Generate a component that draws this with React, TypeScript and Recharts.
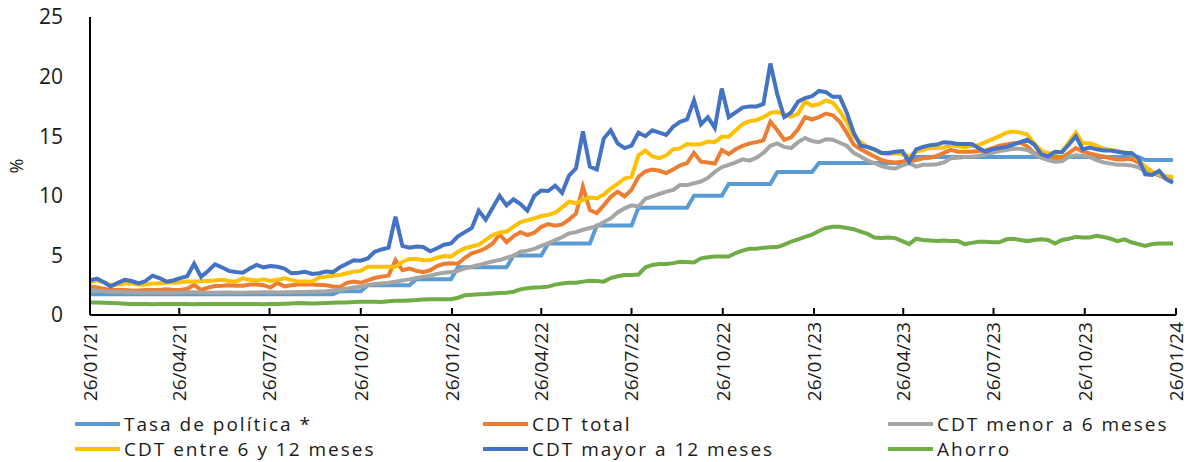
import { LineChart, Line, XAxis, YAxis } from "recharts";

const FONT = "'Open Sans', sans-serif";
const START = Date.UTC(2021, 0, 26);
const DAY = 86400000;

// quarterly tick labels on the date axis
const tickLabels = [
  "26/01/21", "26/04/21", "26/07/21", "26/10/21", "26/01/22", "26/04/22", "26/07/22",
  "26/10/22", "26/01/23", "26/04/23", "26/07/23", "26/10/23", "26/01/24",
];
const yTicks = [0, 5, 10, 15, 20, 25];

// weekly observations starting 26/01/21
const tasaPolitica = [
  1.75, 1.75, 1.75, 1.75, 1.75, 1.75, 1.75, 1.75, 1.75, 1.75, 1.75, 1.75, 1.75, 1.75, 1.75, 1.75, 1.75, 1.75,
  1.75, 1.75, 1.75, 1.75, 1.75, 1.75, 1.75, 1.75, 1.75, 1.75, 1.75, 1.75, 1.75, 1.75, 1.75, 1.75, 1.75, 1.75,
  2, 2, 2, 2,
  2.5, 2.5, 2.5, 2.5, 2.5, 2.5, 2.5,
  3, 3, 3, 3, 3, 3,
  4, 4, 4, 4, 4, 4, 4, 4,
  5, 5, 5, 5, 5,
  6, 6, 6, 6, 6, 6, 6,
  7.5, 7.5, 7.5, 7.5, 7.5, 7.5,
  9, 9, 9, 9, 9, 9, 9, 9,
  10, 10, 10, 10, 10,
  11, 11, 11, 11, 11, 11, 11,
  12, 12, 12, 12, 12, 12,
  12.75, 12.75, 12.75, 12.75, 12.75, 12.75, 12.75, 12.75, 12.75, 12.75, 12.75, 12.75, 12.75,
  13.25, 13.25, 13.25, 13.25, 13.25, 13.25, 13.25, 13.25, 13.25, 13.25, 13.25, 13.25, 13.25, 13.25, 13.25, 13.25, 13.25,
  13.25, 13.25, 13.25, 13.25, 13.25, 13.25, 13.25, 13.25, 13.25, 13.25, 13.25, 13.25, 13.25, 13.25, 13.25, 13.25, 13.25,
  13, 13, 13, 13, 13,
];

const cdtTotal = [
  2.4, 2.3, 2.2, 2.1, 2.1, 2.1, 2.05, 2.05, 2.1, 2.1,
  2.1, 2.15, 2.1, 2.1, 2.2, 2.52, 2.1, 2.3, 2.43, 2.45,
  2.5, 2.45, 2.45, 2.55, 2.55, 2.5, 2.3, 2.7, 2.4, 2.5,
  2.55, 2.55, 2.55, 2.52, 2.5, 2.4, 2.35, 2.7, 2.8, 2.7,
  2.9, 3.1, 3.22, 3.3, 4.6, 3.75, 3.9, 3.7, 3.6, 3.75,
  4.1, 4.3, 4.35, 4.3, 4.8, 5.17, 5.35, 5.6, 6.0, 6.75,
  6.1, 6.6, 6.95, 6.7, 6.9, 7.4, 7.63, 7.5, 7.6, 8.0,
  8.5, 10.76, 8.81, 8.55, 9.2, 9.9, 10.35, 9.95, 10.5, 11.6,
  12.05, 12.2, 12.1, 11.9, 12.2, 12.55, 12.75, 13.6, 12.86, 12.8,
  12.7, 13.84, 13.5, 13.9, 14.2, 14.4, 14.5, 14.65, 16.22, 15.5,
  14.7, 14.9, 15.6, 16.6, 16.4, 16.6, 16.9, 16.75, 16.2, 15.3,
  14.3, 13.9, 13.6, 13.3, 13.0, 12.85, 12.8, 12.85, 12.9, 13.0,
  13.15, 13.2, 13.35, 13.6, 13.85, 13.7, 13.7, 13.7, 13.75, 13.8,
  14.0, 14.2, 14.3, 14.4, 14.45, 14.15, 13.6, 13.4, 13.3, 13.15,
  13.2, 13.6, 14.0, 13.7, 13.55, 13.4, 13.3, 13.15, 13.05, 13.05,
  13.1, 12.8, 12.4, 12.0, 11.7, 11.45, 11.3,
];

const cdtMenor6 = [
  2.1, 2.05, 2.0, 1.95, 1.95, 1.9, 1.9, 1.88, 1.88, 1.88,
  1.87, 1.87, 1.87, 1.88, 1.9, 1.9, 1.88, 1.87, 1.87, 1.88,
  1.88, 1.87, 1.87, 1.88, 1.88, 1.9, 1.9, 1.88, 1.9, 1.9,
  1.92, 1.92, 1.95, 1.97, 2.0, 2.05, 2.1, 2.2, 2.3, 2.38,
  2.5, 2.6, 2.65, 2.71, 2.8, 2.9, 2.99, 3.1, 3.2, 3.3,
  3.45, 3.55, 3.6, 3.7, 3.92, 4.05, 4.19, 4.35, 4.5, 4.61,
  4.8, 4.95, 5.31, 5.4, 5.55, 5.8, 6.01, 6.29, 6.52, 6.85,
  6.95, 7.15, 7.3, 7.45, 7.8, 8.1, 8.6, 8.95, 9.2, 9.1,
  9.75, 9.95, 10.15, 10.35, 10.5, 10.9, 10.9, 11.05, 11.2, 11.5,
  12.0, 12.4, 12.6, 12.8, 13.06, 12.95, 13.2, 13.6, 14.2, 14.4,
  14.1, 14.0, 14.5, 14.85, 14.6, 14.5, 14.75, 14.7, 14.45, 14.2,
  13.6, 13.3, 12.95, 12.75, 12.5, 12.35, 12.3, 12.55, 12.75, 12.45,
  12.6, 12.6, 12.65, 12.8, 13.15, 13.2, 13.25, 13.28, 13.35, 13.5,
  13.6, 13.75, 13.85, 13.95, 13.95, 13.85, 13.5, 13.2, 13.0, 12.85,
  12.9, 13.28, 13.4, 13.35, 13.25, 13.0, 12.8, 12.7, 12.6, 12.6,
  12.55, 12.4, 12.1, 11.9, 11.7, 11.6, 11.5,
];

const cdtEntre6y12 = [
  2.75, 2.9, 2.75, 2.5, 2.55, 2.65, 2.65, 2.55, 2.55, 2.65,
  2.65, 2.7, 2.7, 2.75, 2.8, 2.8, 2.85, 2.85, 2.9, 2.95,
  2.85, 2.8, 3.08, 2.95, 2.9, 3.0, 2.85, 2.95, 3.08, 2.95,
  2.8, 2.8, 2.8, 3.15, 3.22, 3.3, 3.36, 3.5, 3.64, 3.7,
  4.05, 4.05, 4.05, 4.05, 4.05, 4.45, 4.7, 4.7, 4.6, 4.6,
  4.8, 4.95, 4.9, 5.3, 5.6, 5.75, 5.9, 6.3, 6.7, 6.9,
  7.0, 7.4, 7.8, 7.95, 8.1, 8.3, 8.4, 8.58, 9.03, 9.5,
  9.37, 9.65, 9.85, 9.8, 10.1, 10.6, 11.0, 11.45, 11.6, 13.4,
  13.8, 13.3, 13.15, 13.4, 13.9, 13.98, 14.35, 14.3, 14.35, 14.55,
  14.5, 14.95, 14.95, 15.5, 16.0, 16.25, 16.35, 16.6, 16.95, 17.05,
  16.8, 16.65, 16.9, 17.9, 17.55, 17.7, 18.0, 17.8, 17.1, 16.2,
  15.0, 14.5, 14.1, 13.85, 13.56, 13.5, 13.56, 13.5, 13.3, 13.7,
  13.85, 14.0, 14.0, 14.05, 14.25, 14.15, 14.1, 14.2, 14.25, 14.5,
  14.75, 15.0, 15.3, 15.4, 15.3, 15.15, 14.4, 13.8, 13.56, 13.6,
  13.7, 14.5, 15.3, 14.4, 14.4, 14.2, 13.95, 13.84, 13.75, 13.65,
  13.56, 13.0, 12.45, 12.0, 11.8, 11.65, 11.55,
];

const cdtMayor12 = [
  2.9, 3.05, 2.75, 2.4, 2.7, 2.95, 2.85, 2.65, 2.85, 3.3,
  3.1, 2.8, 2.9, 3.1, 3.25, 4.3, 3.2, 3.7, 4.25, 4.0,
  3.7, 3.6, 3.55, 3.9, 4.2, 4.0, 4.1, 4.05, 3.9, 3.5,
  3.55, 3.63, 3.45, 3.5, 3.65, 3.6, 4.0, 4.3, 4.6, 4.55,
  4.75, 5.3, 5.5, 5.65, 8.25, 5.8, 5.65, 5.75, 5.7, 5.35,
  5.6, 5.9, 6.0, 6.6, 6.95, 7.3, 8.75, 8.0, 9.0, 10.0,
  9.2, 9.7, 9.3, 8.75, 10.0, 10.45, 10.4, 10.85, 10.25, 11.7,
  12.3, 15.4, 12.45, 12.2, 14.8, 15.5, 14.4, 14.0, 14.2, 15.3,
  15.0, 15.5, 15.3, 15.1, 15.8, 16.2, 16.4, 18.0, 16.0, 16.6,
  15.7, 19.0, 16.6, 17.0, 17.4, 17.5, 17.5, 17.7, 21.1, 18.5,
  16.6, 17.0, 17.9, 18.2, 18.35, 18.8, 18.7, 18.3, 18.3, 17.0,
  15.3, 14.2, 14.1, 13.9, 13.6, 13.6, 13.7, 13.75, 12.85, 13.9,
  14.1, 14.25, 14.3, 14.5, 14.45, 14.35, 14.35, 14.35, 14.0, 13.7,
  13.9, 14.0, 14.1, 14.3, 14.5, 14.7, 14.3, 13.5, 13.3, 13.7,
  13.65, 14.3, 15.0, 13.9, 14.05, 13.9, 13.8, 13.8, 13.7, 13.6,
  13.6, 13.15, 11.8, 11.75, 12.1, 11.4, 11.1,
];

const ahorro = [
  1.05, 1.05, 1.03, 1.0, 0.98, 0.95, 0.93, 0.93, 0.92, 0.9,
  0.92, 0.93, 0.93, 0.93, 0.92, 0.9, 0.92, 0.93, 0.92, 0.92,
  0.92, 0.92, 0.92, 0.92, 0.92, 0.9, 0.92, 0.93, 0.95, 0.97,
  1.0, 0.98, 0.97, 0.98, 1.0, 1.02, 1.05, 1.05, 1.1, 1.12,
  1.12, 1.12, 1.1, 1.15, 1.2, 1.2, 1.22, 1.25, 1.3, 1.32,
  1.32, 1.33, 1.33, 1.45, 1.65, 1.7, 1.75, 1.76, 1.8, 1.85,
  1.87, 1.95, 2.15, 2.25, 2.3, 2.32, 2.38, 2.55, 2.65, 2.7,
  2.71, 2.8, 2.88, 2.85, 2.8, 3.1, 3.25, 3.35, 3.36, 3.4,
  4.0, 4.2, 4.28, 4.28, 4.35, 4.47, 4.45, 4.4, 4.75, 4.85,
  4.9, 4.9, 4.9, 5.2, 5.4, 5.55, 5.55, 5.65, 5.68, 5.7,
  5.9, 6.15, 6.35, 6.55, 6.75, 7.05, 7.3, 7.4, 7.4, 7.3,
  7.2, 7.0, 6.8, 6.5, 6.45, 6.5, 6.45, 6.2, 5.95, 6.4,
  6.3, 6.25, 6.2, 6.25, 6.2, 6.2, 5.95, 6.05, 6.15, 6.15,
  6.1, 6.1, 6.35, 6.4, 6.3, 6.2, 6.3, 6.35, 6.3, 6.0,
  6.3, 6.4, 6.55, 6.5, 6.5, 6.65, 6.55, 6.4, 6.2, 6.35,
  6.1, 5.95, 5.8, 5.95, 6.0, 6.0, 6.0,
];

const seriesDefs = [
  { key: "tasa", name: "Tasa de política *", values: tasaPolitica, color: "#5B9BD5" },
  { key: "total", name: "CDT total", values: cdtTotal, color: "#ED7D31" },
  { key: "menor", name: "CDT menor a 6 meses", values: cdtMenor6, color: "#A5A5A5" },
  { key: "entre", name: "CDT entre 6 y 12 meses", values: cdtEntre6y12, color: "#FFC000" },
  { key: "mayor", name: "CDT mayor a 12 meses", values: cdtMayor12, color: "#4472C4" },
  { key: "ahorro", name: "Ahorro", values: ahorro, color: "#70AD47" },
];

const toDays = (label: string) => {
  const [dd, mm, yy] = label.split("/").map(Number);
  return Math.round((Date.UTC(2000 + yy, mm - 1, dd) - START) / DAY);
};
const tickDays = tickLabels.map(toDays);
const labelByDay: Record<number, string> = {};
tickLabels.forEach((l, i) => (labelByDay[tickDays[i]] = l));

const data = tasaPolitica.map((_, i) => {
  const row: Record<string, number> = { d: i * 7 };
  seriesDefs.forEach((s) => (row[s.key] = s.values[i]));
  return row;
});

function DateTick(props: any) {
  const { x, y, payload } = props;
  const ty = y + 7;
  return (
    <g>
      <line x1={x} y1={y} x2={x} y2={y - 7} stroke="#000" strokeWidth={2} />
      <text
        x={x}
        y={ty}
        transform={`rotate(-90, ${x}, ${ty})`}
        textAnchor="end"
        dy="0.36em"
        fontSize={19}
        fontFamily={FONT}
        fill="#1a1a1a"
      >
        {labelByDay[payload.value]}
      </text>
    </g>
  );
}

const legendCols = [75, 483, 888];

export default function App() {
  return (
    <div style={{ position: "absolute", left: 0, top: 0, width: 1200, height: 462, background: "#fff", overflow: "hidden" }}>
      <LineChart
        width={1200}
        height={462}
        data={data}
        margin={{ top: 17, right: 24, left: 0, bottom: 47 }}
      >
        <XAxis
          dataKey="d"
          type="number"
          domain={[0, tickDays[tickDays.length - 1]]}
          ticks={tickDays}
          interval={0}
          height={100}
          tickLine={false}
          tickSize={0}
          tickMargin={0}
          tick={<DateTick />}
          axisLine={{ stroke: "#000", strokeWidth: 2 }}
        />
        <YAxis
          type="number"
          domain={[0, 25]}
          ticks={yTicks}
          width={90}
          tickLine={false}
          tickSize={0}
          tickMargin={27}
          axisLine={{ stroke: "#000", strokeWidth: 2 }}
          tick={{ fontSize: 21, fontFamily: FONT, fill: "#1a1a1a" }}
          label={{
            content: () => (
              <text
                x={17}
                y={166}
                transform="rotate(-90, 17, 166)"
                textAnchor="middle"
                dy="0.35em"
                fontSize={18}
                fontFamily={FONT}
                fill="#1a1a1a"
              >
                %
              </text>
            ),
          }}
        />
        {seriesDefs.map((s) => (
          <Line
            key={s.key}
            dataKey={s.key}
            name={s.name}
            type="linear"
            stroke={s.color}
            strokeWidth={4}
            dot={false}
            isAnimationActive={false}
          />
        ))}
      </LineChart>
      <div style={{ position: "absolute", left: 0, top: 414, width: 1200, fontFamily: FONT }}>
        {seriesDefs.map((s, i) => (
          <div
            key={s.key}
            style={{
              position: "absolute",
              left: legendCols[i % 3],
              top: Math.floor(i / 3) * 25,
              height: 20,
              display: "flex",
              alignItems: "center",
              whiteSpace: "nowrap",
            }}
          >
            <div style={{ width: 45, height: 4, background: s.color, marginRight: 4 }} />
            <span style={{ fontSize: 19, lineHeight: "20px", letterSpacing: 2, color: "#1a1a1a" }}>
              {s.name}
            </span>
          </div>
        ))}
      </div>
    </div>
  );
}
